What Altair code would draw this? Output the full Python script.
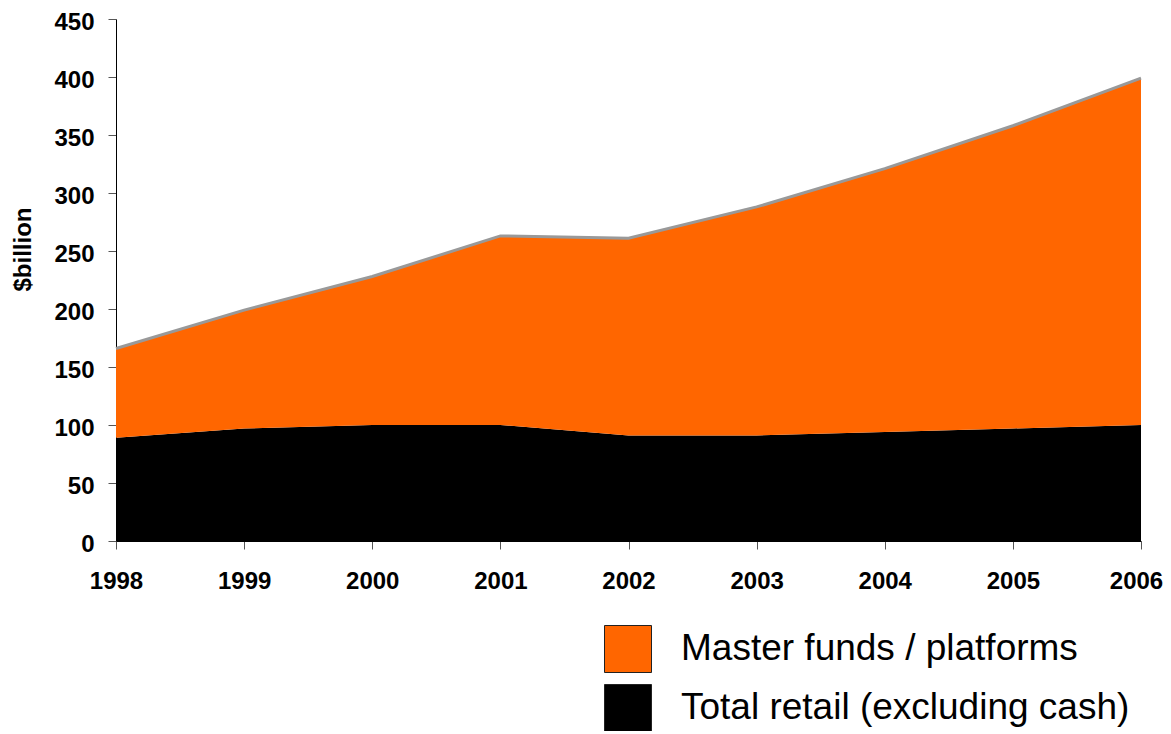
import altair as alt
import pandas as pd

years = [1998, 1999, 2000, 2001, 2002, 2003, 2004, 2005, 2006]
total_retail = [89, 97, 100, 100, 91, 91, 94, 97, 100]
master_funds = [77, 102, 128, 163, 170, 197, 227, 261, 299]
series_names = ["Master funds / platforms", "Total retail (excluding cash)"]
y_ticks = [0, 50, 100, 150, 200, 250, 300, 350, 400, 450]

rows = []
for i, yr in enumerate(years):
    rows.append({"year": yr, "series": series_names[1], "value": total_retail[i], "ord": 0})
    rows.append({"year": yr, "series": series_names[0], "value": master_funds[i], "ord": 1})
df = pd.DataFrame(rows)

FONT = "Liberation Sans, Arial, Helvetica, sans-serif"

x_enc = alt.X(
    "year:Q",
    scale=alt.Scale(domain=[1998, 2006], nice=False, zero=False),
    axis=alt.Axis(
        values=years, format="d", title=None, grid=False,
        labelFont=FONT, labelFontSize=24, labelFontWeight="bold", labelColor="black",
        labelPadding=20, tickSize=8, tickColor="#555555", domainColor="black",
        labelFlush=False, labelOverlap=False,
        labelOffset={"condition": {"test": "datum.value === 2006", "value": -5}, "value": 0},
    ),
)

y_axis = alt.Axis(
    values=y_ticks, title="$billion", grid=False,
    labelFont=FONT, labelFontSize=24, labelFontWeight="bold", labelColor="black",
    labelPadding=14, tickSize=8, tickColor="#555555", domainColor="black",
    labelOffset=3, labelFlush=False,
    titleFont=FONT, titleFontSize=24, titleFontWeight="bold", titleColor="black",
    titleX=-93, titleY=230, titleBaseline="middle", titleAngle=270,
)

areas = alt.Chart(df).mark_area(opacity=1).encode(
    x=x_enc,
    y=alt.Y("value:Q", stack="zero", scale=alt.Scale(domain=[0, 450], nice=False), axis=y_axis),
    color=alt.Color(
        "series:N",
        scale=alt.Scale(domain=series_names, range=["#FF6600", "#000000"]),
        title=None,
        legend=alt.Legend(
            orient="none", legendX=488, legendY=606, padding=0,
            symbolType="square", symbolSize=2209, symbolStrokeColor="#222222",
            symbolStrokeWidth=1, symbolOpacity=1,
            labelFont=FONT, labelFontSize=37, labelColor="black", labelLimit=800,
            labelOffset=29, rowPadding=7,
        ),
    ),
    order=alt.Order("ord:Q", sort="ascending"),
)

top_line = alt.Chart(df).mark_line(color="#999999", strokeWidth=3).encode(
    x=alt.X("year:Q"),
    y=alt.Y("sum(value):Q"),
)

chart = alt.layer(areas, top_line).properties(
    width=1025,
    height=522,
    padding={"left": 108, "top": 11, "right": 22, "bottom": 190},
    autosize=alt.AutoSizeParams(type="none"),
).configure_view(stroke=None)

chart.save("out.html", embed_options={"renderer": "svg", "actions": False})
